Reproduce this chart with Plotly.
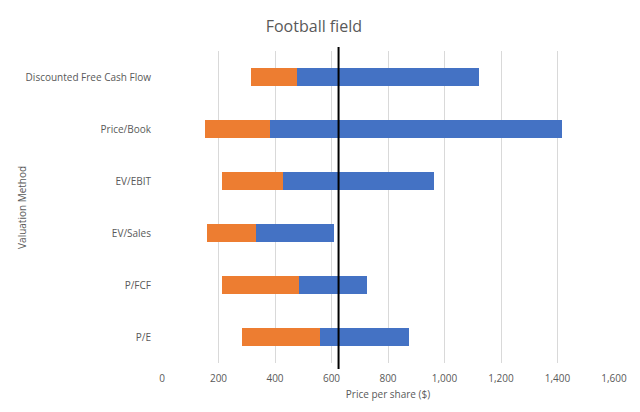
import plotly.graph_objects as go

methods = ["Discounted Free Cash Flow", "Price/Book", "EV/EBIT", "EV/Sales", "P/FCF", "P/E"]
low = [314, 152, 211, 158, 211, 282]
mid = [477, 384, 428, 332, 484, 558]
high = [1122, 1415, 964, 608, 725, 876]
current_price = 625
x_ticks = [0, 200, 400, 600, 800, 1000, 1200, 1400, 1600]

orange_len = [m - l for l, m in zip(low, mid)]
blue_len = [h - m for m, h in zip(mid, high)]

fig = go.Figure()
fig.add_trace(go.Bar(y=methods, x=low, orientation="h",
                     marker=dict(color="rgba(0,0,0,0)", line=dict(width=0)),
                     showlegend=False, hoverinfo="skip"))
fig.add_trace(go.Bar(y=methods, x=orange_len, orientation="h", marker=dict(color="#ED7D31", line=dict(width=0)),
                     showlegend=False))
fig.add_trace(go.Bar(y=methods, x=blue_len, orientation="h", marker=dict(color="#4472C4", line=dict(width=0)),
                     showlegend=False))

fig.add_shape(type="line", xref="x", yref="paper", x0=current_price, x1=current_price,
              y0=-0.019, y1=1.013, line=dict(color="black", width=2))

font_family = "Open Sans, Liberation Sans, sans-serif"
fig.add_annotation(text="Valuation Method", xref="paper", yref="paper", x=-0.31, y=0.5,
                   xanchor="center", yanchor="middle", textangle=-90, showarrow=False,
                   font=dict(family=font_family, size=10, color="#595959"))

fig.update_layout(
    width=640, height=412,
    barmode="stack", bargap=0.65,
    paper_bgcolor="white", plot_bgcolor="white",
    margin=dict(l=154, r=34, t=43, b=57, autoexpand=False),
    title=dict(text="Football field", x=0.478, xanchor="center", y=0.956, yanchor="middle",
               yref="container", font=dict(family=font_family, size=16, color="#595959")),
    font=dict(family=font_family, color="#595959", size=10),
    xaxis=dict(range=[0, 1600], tickvals=x_ticks, tickformat=",", showgrid=True, gridcolor="#d9d9d9",
               gridwidth=1, zeroline=False, showline=False, ticks="outside", ticklen=6,
               tickcolor="rgba(0,0,0,0)", automargin=False,
               tickfont=dict(size=10, color="#595959"),
               title=dict(text="Price per share ($)", font=dict(size=10, color="#595959"), standoff=6)),
    yaxis=dict(categoryorder="array", categoryarray=methods, autorange="reversed",
               showgrid=False, zeroline=False, showline=False, ticks="outside", ticklen=8,
               tickcolor="rgba(0,0,0,0)", automargin=False,
               tickfont=dict(size=10, color="#595959")),
)

fig.write_html("out.html")
